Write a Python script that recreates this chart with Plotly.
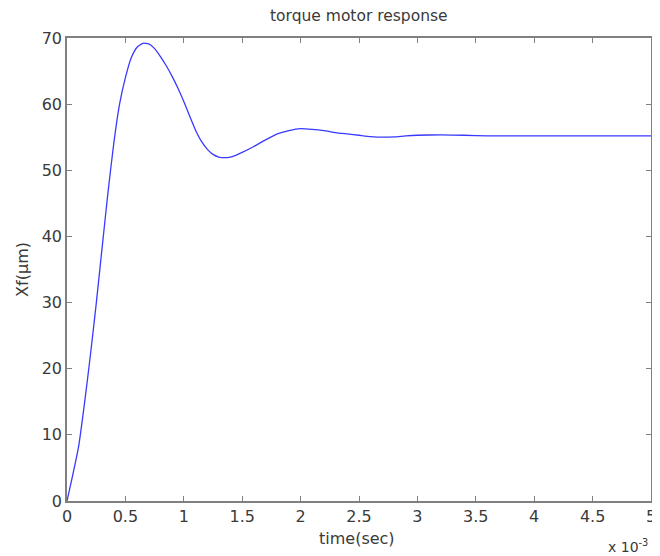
import plotly.graph_objects as go

# time in milliseconds (axis shows x 10^-3 sec)
t_ms = [0, 0.05, 0.10, 0.15, 0.20, 0.25, 0.30, 0.35, 0.40, 0.45,
        0.50, 0.55, 0.60, 0.65, 0.70, 0.75, 0.80, 0.85, 0.90, 0.95,
        1.00, 1.05, 1.10, 1.15, 1.20, 1.25, 1.30, 1.35, 1.40, 1.45,
        1.50, 1.60, 1.70, 1.80, 1.90, 2.00, 2.10, 2.20, 2.30, 2.40,
        2.50, 2.60, 2.70, 2.80, 2.90, 3.00, 3.20, 3.40, 3.60, 4.00,
        4.50, 5.00]
xf_um = [0, 4.0, 8.3, 14.8, 22.0, 29.8, 38.2, 46.5, 54.0, 60.0,
         64.0, 67.0, 68.6, 69.2, 69.1, 68.4, 67.2, 65.8, 64.2, 62.4,
         60.4, 58.2, 56.1, 54.4, 53.2, 52.4, 52.0, 51.9, 52.0, 52.3,
         52.7, 53.6, 54.6, 55.5, 56.0, 56.3, 56.2, 56.0, 55.7, 55.5,
         55.3, 55.1, 55.0, 55.05, 55.2, 55.3, 55.35, 55.3, 55.2, 55.2,
         55.2, 55.2]

x_ticks = [0, 0.5, 1, 1.5, 2, 2.5, 3, 3.5, 4, 4.5, 5]
x_tick_labels = ["0", "0.5", "1", "1.5", "2", "2.5", "3", "3.5", "4", "4.5", "5"]
y_ticks = [0, 10, 20, 30, 40, 50, 60, 70]

title_text = "torque motor response"
x_label = "time(sec)"
y_label = "Xf(\u03bcm)"
x_exponent = "x 10<sup>-3</sup>"

FONT = "DejaVu Sans, Liberation Sans, sans-serif"
TXT = "#3a3a3a"
AX = "#808080"

W, H = 652, 548
L, R, T, B = 59, 4, 30, 55
PW = W - L - R   # plot width in px
PH = H - T - B   # plot height in px

fig = go.Figure()
fig.add_trace(go.Scatter(
    x=t_ms, y=xf_um, mode="lines",
    line=dict(color="#3a3aff", width=1.3, shape="spline", smoothing=0.5),
    showlegend=False, hoverinfo="skip"))

axis_common = dict(
    showgrid=False, zeroline=False, showline=True, linecolor=AX, linewidth=1.5,
    mirror="ticks", ticks="inside", ticklen=5, tickcolor=AX, tickwidth=1.2,
    tickfont=dict(family=FONT, size=16, color=TXT))

fig.update_layout(
    width=W, height=H,
    margin=dict(l=L, r=R, t=T, b=B),
    plot_bgcolor="white", paper_bgcolor="white",
    font=dict(family=FONT, size=16, color=TXT),
    xaxis=dict(range=[0, 5], tickvals=x_ticks, ticktext=x_tick_labels, **axis_common),
    yaxis=dict(range=[0, 70], tickvals=y_ticks, **axis_common),
)

# positions given in window pixels (page adds an 8px offset)
def px(xw):
    return (xw - 8 - L) / PW

def py(yw):
    return (H - B - (yw - 8)) / PH

annos = [
    dict(text=title_text, x=0.5, y=py(16), xanchor="center", yanchor="middle", font=dict(size=15.5)),
    dict(text=x_label, x=px(359), y=py(538), xanchor="center", yanchor="middle"),
    dict(text=y_label, x=px(22), y=0.5, xanchor="center", yanchor="middle", textangle=-90),
    dict(text=x_exponent, x=px(655), y=py(546), xanchor="right", yanchor="middle", font=dict(size=14)),
]
for a in annos:
    fig.add_annotation(xref="paper", yref="paper", showarrow=False, **a)

fig.write_html("out.html")
